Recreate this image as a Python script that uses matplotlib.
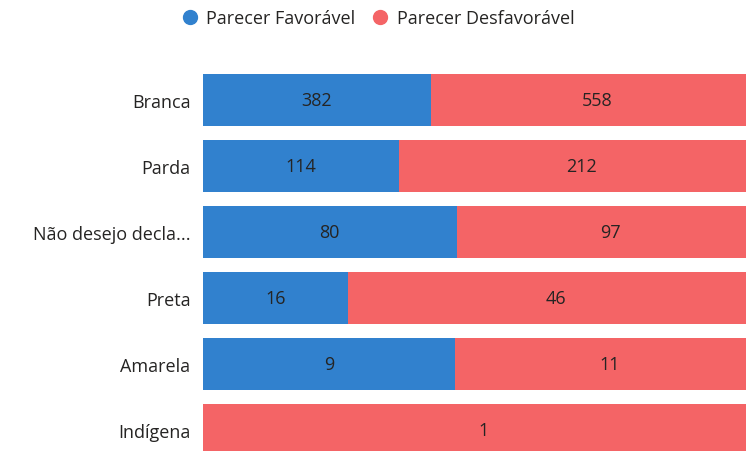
import numpy as np
import matplotlib.pyplot as plt

categorias = ["Branca", "Parda", "Não desejo decla...", "Preta", "Amarela", "Indígena"]
favoravel = [382, 114, 80, 16, 9, 0]
desfavoravel = [558, 212, 97, 46, 11, 1]

cor_fav = "#3181CE"
cor_desf = "#F46466"

plt.rcParams["font.family"] = ["Open Sans", "DejaVu Sans"]

fav = np.array(favoravel, dtype=float)
desf = np.array(desfavoravel, dtype=float)
total = fav + desf
p_fav = fav / total
p_desf = desf / total

fig = plt.figure(figsize=(7.46, 4.52), dpi=100)
# the bars run past the right edge of the picture, as in the original
ax = fig.add_axes([203 / 746, 0, 561 / 746, 1 - 68 / 452])

y = np.arange(len(categorias))
h = 52 / 66
ax.barh(y, p_fav, height=h, color=cor_fav)
ax.barh(y, p_desf, left=p_fav, height=h, color=cor_desf)

for i in range(len(categorias)):
    if fav[i] > 0:
        ax.text(p_fav[i] / 2, y[i], f"{int(fav[i])}", ha="center", va="center",
                fontsize=13, color="#252423")
    if desf[i] > 0:
        ax.text(p_fav[i] + p_desf[i] / 2, y[i], f"{int(desf[i])}", ha="center",
                va="center", fontsize=13, color="#252423")

ax.set_xlim(0, 1)
ax.set_ylim(5.318, -0.5)
ax.set_yticks(y)
ax.set_yticklabels(categorias, fontsize=13, color="#252423")
ax.tick_params(axis="y", length=0, pad=9)
ax.set_xticks([])
for s in ax.spines.values():
    s.set_visible(False)

handles = [
    plt.Line2D([], [], marker="o", linestyle="", markersize=10, color=cor_fav),
    plt.Line2D([], [], marker="o", linestyle="", markersize=10, color=cor_desf),
]
fig.legend(handles, ["Parecer Favorável", "Parecer Desfavorável"], loc="center",
           bbox_to_anchor=(373 / 746, 1 - 19 / 452), ncol=2, frameon=False,
           fontsize=13, handletextpad=-0.1, columnspacing=0.4,
           labelcolor="#252423")

fig.savefig("out.png", dpi=100)
